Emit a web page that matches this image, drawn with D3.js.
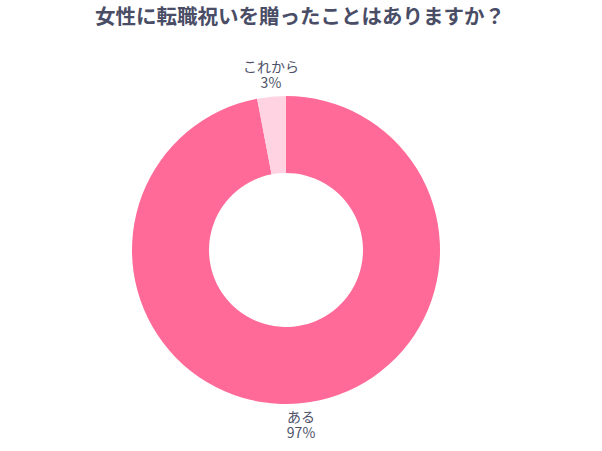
<!DOCTYPE html>
<html><head><meta charset="utf-8">
<script src="https://cdn.jsdelivr.net/npm/d3@7"></script>
<style>body{margin:0;background:#fff;}svg{display:block;font-family:"Noto Sans CJK JP","Noto Sans",sans-serif;}</style>
</head><body>
<svg id="c" width="602" height="451"></svg>
<script>
const title = "女性に転職祝いを贈ったことはありますか？";
const categories = ["ある", "これから"];
const values = [97, 3];
const colors = ["#FF6A98", "#FFD3E1"];

const svg = d3.select("#c");
const cx = 286, cy = 250, R = 154, r = 77, labelR = 160;

svg.append("text").attr("x", 300).attr("y", 24).attr("text-anchor", "middle")
  .attr("font-size", 20.5).attr("font-weight", "bold").attr("fill", "#4A4D66").text(title);

const data = categories.map((c, i) => ({cat: c, val: values[i], color: colors[i]}));
const pie = d3.pie().value(d => d.val).sort(null);
const arcs = pie(data);
const arc = d3.arc().innerRadius(r).outerRadius(R);
const g = svg.append("g").attr("transform", `translate(${cx},${cy})`);
g.selectAll("path").data(arcs).join("path").attr("d", arc).attr("fill", d => d.data.color);

const lab = d3.arc().innerRadius(labelR).outerRadius(labelR);
arcs.forEach(a => {
  const [x, y] = lab.centroid(a);
  const b1 = y < 0 ? -19 : 13;
  const t = g.append("text").attr("text-anchor", "middle").attr("font-size", 14).attr("fill", "#4E5268")
    .attr("transform", `translate(${x},${y})`);
  t.append("tspan").attr("x", 0).attr("y", b1).text(a.data.cat);
  t.append("tspan").attr("x", 0).attr("y", b1 + 16).text(a.data.val + "%");
});
</script>
</body></html>
